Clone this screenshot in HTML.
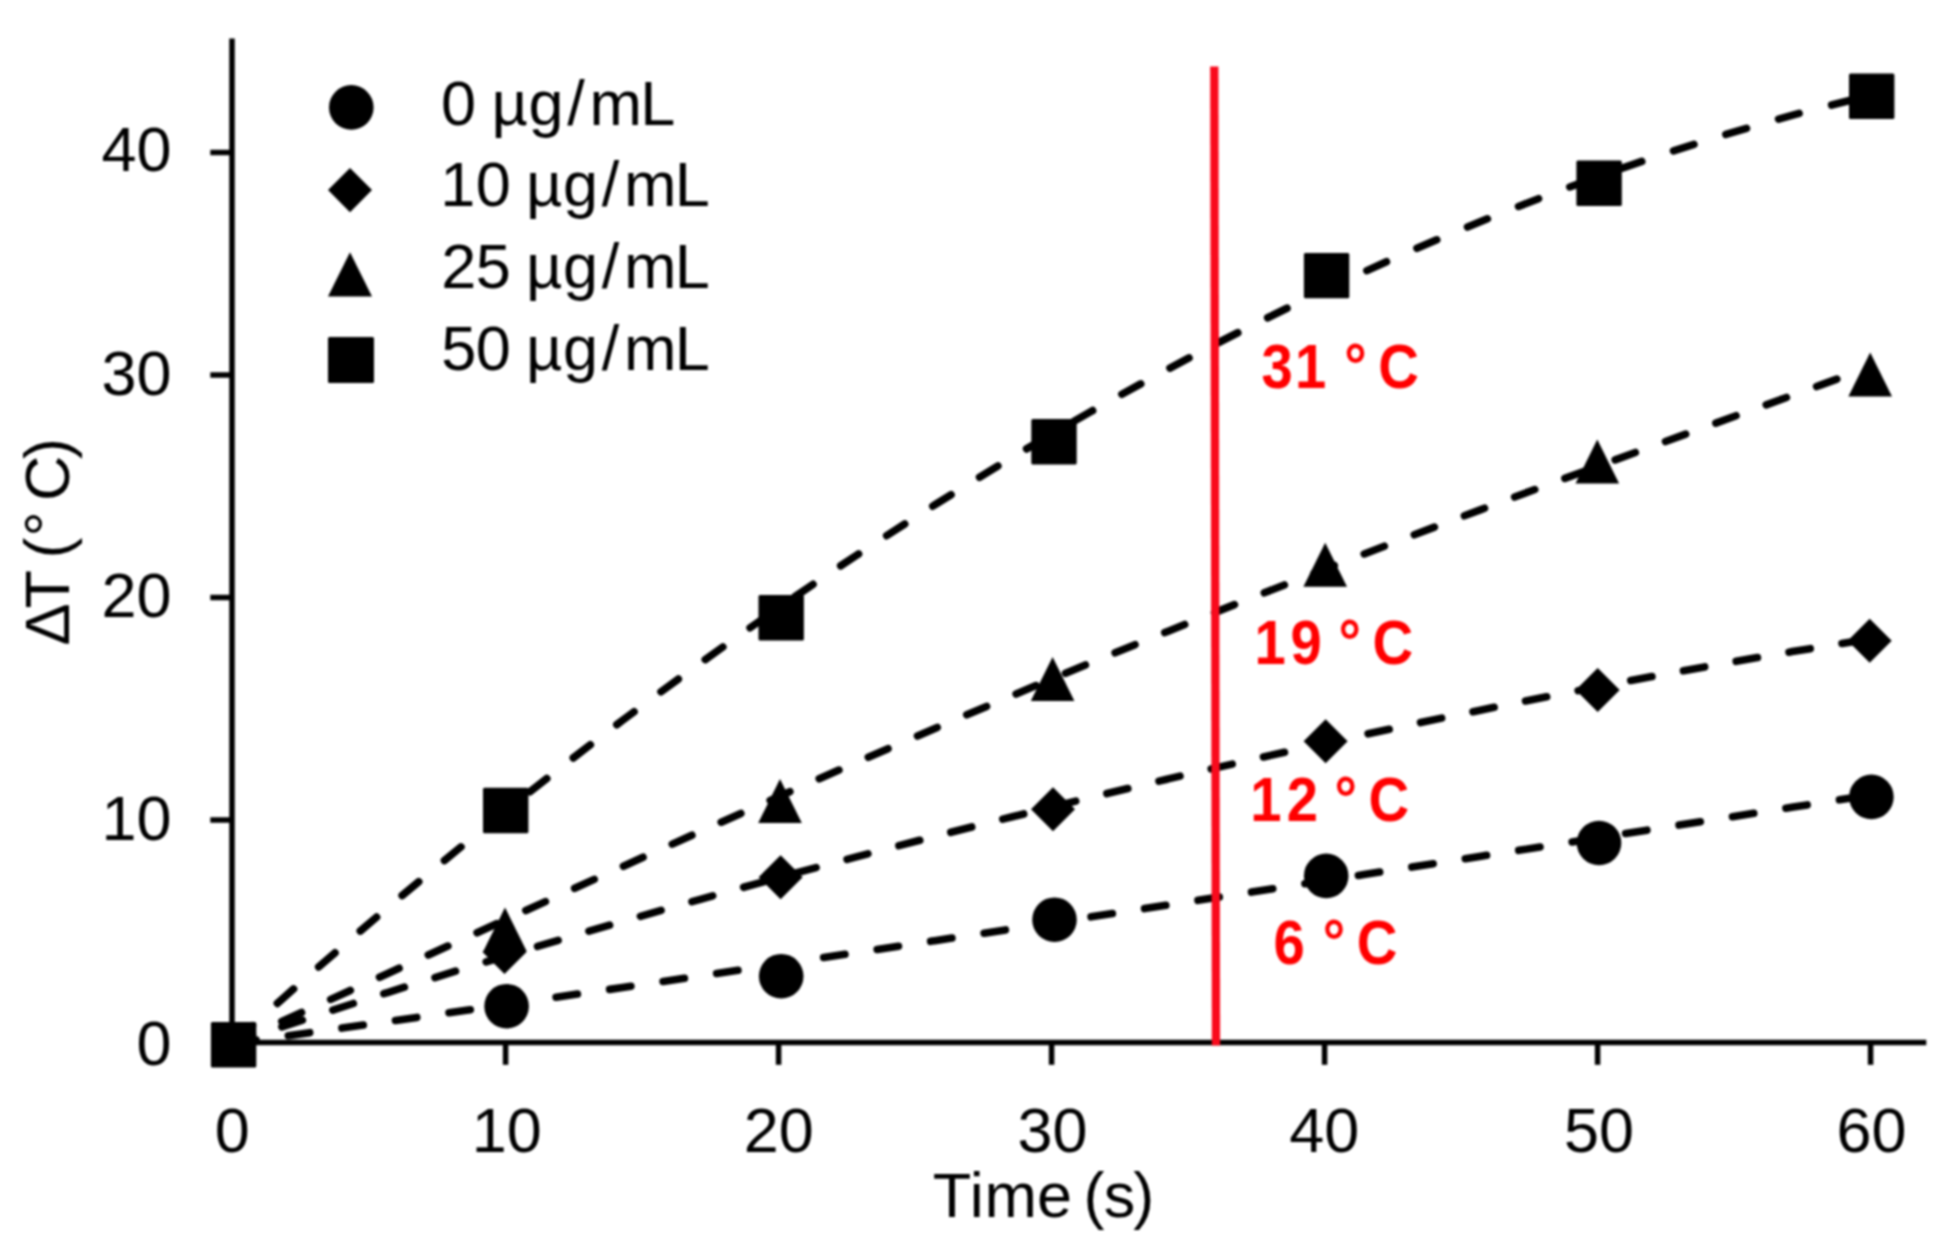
<!DOCTYPE html>
<html lang="en"><head><meta charset="utf-8"><title>Photothermal heating curves</title>
<style>html,body{margin:0;padding:0;background:#fff;overflow:hidden}svg{display:block;filter:blur(0.9px)}text{font-family:"Liberation Sans",sans-serif;fill:#000}.r text{fill:#ff0000;font-weight:bold}.ln{fill:none;stroke:#000;stroke-width:7.6;stroke-linecap:round}</style></head><body>
<svg width="1949" height="1248" viewBox="0 0 1949 1248">
<rect width="1949" height="1248" fill="#fff"/>
<g class="ln">
<path d="M232.3 1043.5 C245.3 1041.7 284.3 1036.2 310.3 1032.6 C336.4 1028.9 362.4 1025.2 388.4 1021.5 C414.4 1017.8 440.4 1014.0 466.4 1010.3 C492.4 1006.5 518.5 1002.7 544.5 998.9 C570.5 995.1 596.5 991.3 622.5 987.5 C648.5 983.6 674.5 979.8 700.6 975.9 C726.6 972.0 752.6 968.2 778.6 964.3 C804.6 960.4 830.6 956.5 856.6 952.5 C882.7 948.6 908.7 944.7 934.7 940.7 C960.7 936.8 986.7 932.8 1012.7 928.8 C1038.7 924.8 1064.8 920.9 1090.8 916.9 C1116.8 912.9 1142.8 908.9 1168.8 904.8 C1194.8 900.8 1220.8 896.8 1246.9 892.8 C1272.9 888.7 1298.9 884.7 1324.9 880.6 C1350.9 876.6 1376.9 872.5 1402.9 868.5 C1429.0 864.4 1455.0 860.3 1481.0 856.2 C1507.0 852.2 1533.0 848.1 1559.0 844.0 C1585.0 839.9 1611.1 835.8 1637.1 831.7 C1663.1 827.6 1689.1 823.5 1715.1 819.4 C1741.1 815.3 1767.1 811.2 1793.2 807.1 C1819.2 803.0 1858.2 796.8 1871.2 794.8" stroke-dasharray="21.5 32.6" stroke-dashoffset="51.6"/>
<path d="M232.3 1043.5 C245.3 1039.2 284.3 1026.0 310.3 1017.5 C336.3 1008.9 362.3 1000.6 388.3 992.3 C414.3 984.0 440.3 975.9 466.3 967.9 C492.3 960.0 518.3 952.1 544.3 944.4 C570.3 936.6 596.3 929.0 622.3 921.5 C648.3 914.0 674.3 906.6 700.3 899.3 C726.3 892.0 752.3 884.9 778.3 877.8 C804.3 870.7 830.3 863.7 856.3 856.9 C882.3 850.0 908.3 843.2 934.3 836.5 C960.3 829.8 986.3 823.3 1012.3 816.8 C1038.3 810.3 1064.2 803.9 1090.2 797.6 C1116.2 791.3 1142.2 785.1 1168.2 778.9 C1194.2 772.8 1220.2 766.8 1246.2 760.9 C1272.2 755.0 1298.2 749.1 1324.2 743.4 C1350.2 737.7 1376.2 732.0 1402.2 726.5 C1428.2 720.9 1454.2 715.5 1480.2 710.2 C1506.2 704.8 1532.2 699.6 1558.2 694.5 C1584.2 689.4 1610.2 684.4 1636.2 679.5 C1662.2 674.6 1688.2 669.8 1714.2 665.2 C1740.2 660.6 1766.2 656.0 1792.2 651.6 C1818.2 647.3 1857.2 641.0 1870.2 638.9" stroke-dasharray="21.5 32.1" stroke-dashoffset="1.3"/>
<path d="M232.3 1043.6 C245.3 1037.7 284.3 1020.3 310.3 1008.6 C336.3 996.8 362.3 985.0 388.3 973.2 C414.3 961.4 440.3 949.5 466.3 937.7 C492.3 925.8 518.3 913.9 544.3 902.1 C570.3 890.3 596.3 878.4 622.3 866.7 C648.3 854.9 674.3 843.2 700.3 831.5 C726.3 819.9 752.3 808.3 778.3 796.8 C804.3 785.2 830.3 773.8 856.3 762.5 C882.3 751.1 908.3 739.9 934.3 728.7 C960.3 717.6 986.3 706.5 1012.3 695.6 C1038.3 684.6 1064.2 673.8 1090.2 663.0 C1116.2 652.3 1142.2 641.7 1168.2 631.2 C1194.2 620.7 1220.2 610.3 1246.2 600.0 C1272.2 589.7 1298.2 579.5 1324.2 569.4 C1350.2 559.3 1376.2 549.3 1402.2 539.4 C1428.2 529.4 1454.2 519.6 1480.2 509.9 C1506.2 500.1 1532.2 490.5 1558.2 480.9 C1584.2 471.2 1610.2 461.7 1636.2 452.2 C1662.2 442.7 1688.2 433.2 1714.2 423.7 C1740.2 414.3 1766.2 404.8 1792.2 395.4 C1818.2 385.9 1857.2 371.7 1870.2 367.0" stroke-dasharray="21.5 32.1" stroke-dashoffset="52.9"/>
<path d="M232.3 1043.6 C245.3 1032.0 284.3 996.9 310.4 974.2 C336.4 951.4 362.4 929.1 388.4 907.1 C414.5 885.1 440.5 863.6 466.5 842.4 C492.5 821.3 518.5 800.5 544.6 780.2 C570.6 759.8 596.6 739.9 622.6 720.3 C648.7 700.8 674.7 681.6 700.7 662.9 C726.7 644.1 752.7 625.8 778.8 607.8 C804.8 589.8 830.8 572.3 856.8 555.1 C882.9 538.0 908.9 521.2 934.9 504.8 C960.9 488.5 986.9 472.5 1013.0 457.0 C1039.0 441.4 1065.0 426.3 1091.0 411.5 C1117.1 396.8 1143.1 382.5 1169.1 368.5 C1195.1 354.6 1221.1 341.1 1247.2 328.0 C1273.2 314.9 1299.2 302.2 1325.2 289.9 C1351.3 277.6 1377.3 265.8 1403.3 254.3 C1429.3 242.9 1455.3 231.9 1481.4 221.3 C1507.4 210.7 1533.4 200.5 1559.4 190.8 C1585.5 181.1 1611.5 171.8 1637.5 162.9 C1663.5 154.0 1689.5 145.6 1715.6 137.6 C1741.6 129.6 1767.6 122.0 1793.6 114.9 C1819.7 107.8 1858.7 98.3 1871.7 95.0" stroke-dasharray="21.5 33.4" stroke-dashoffset="49.3"/>
</g>
<g stroke="#000" stroke-width="5.5" fill="none" stroke-linecap="butt">
<path d="M232 38.5V1045.2"/>
<path d="M229.3 1042.5H1926.3"/>
<path d="M210.3 820.0H232"/>
<path d="M210.3 597.5H232"/>
<path d="M210.3 375.0H232"/>
<path d="M210.3 152.5H232"/>
<path d="M505.6 1042.5V1064.8"/>
<path d="M778.6 1042.5V1064.8"/>
<path d="M1051.6 1042.5V1064.8"/>
<path d="M1324.6 1042.5V1064.8"/>
<path d="M1597.6 1042.5V1064.8"/>
<path d="M1870.6 1042.5V1064.8"/>
</g>
<path d="M1214.3 66.5L1216 1045.5" stroke="#f90a1c" stroke-width="8.3" fill="none"/>
<g fill="#000">
<rect x="210.9" y="1022.1" width="45.4" height="45.4" rx="1.5"/>
<rect x="483.0" y="787.8" width="45.4" height="45.4" rx="1.5"/>
<rect x="758.5" y="595.0" width="45.4" height="45.4" rx="1.5"/>
<rect x="1031.3" y="419.1" width="45.4" height="45.4" rx="1.5"/>
<rect x="1303.9" y="252.9" width="45.4" height="45.4" rx="1.5"/>
<rect x="1576.4" y="160.6" width="45.4" height="45.4" rx="1.5"/>
<rect x="1849.0" y="73.5" width="45.4" height="45.4" rx="1.5"/>
<path d="M505.0 907.4L526.8 951.4H483.2Z"/>
<path d="M780.0 779.0L801.8 823.0H758.2Z"/>
<path d="M1052.6 657.0L1074.4 701.0H1030.8Z"/>
<path d="M1325.2 542.7L1347.0 586.7H1303.4Z"/>
<path d="M1597.3 439.5L1619.1 483.5H1575.5Z"/>
<path d="M1870.2 352.5L1892.0 396.5H1848.4Z"/>
<path d="M504.5 930.0L526.5 952.0L504.5 974.0L482.5 952.0Z"/>
<path d="M780.6 855.2L802.6 877.2L780.6 899.2L758.6 877.2Z"/>
<path d="M1053.0 787.3L1075.0 809.3L1053.0 831.3L1031.0 809.3Z"/>
<path d="M1325.6 719.3L1347.6 741.3L1325.6 763.3L1303.6 741.3Z"/>
<path d="M1597.7 668.0L1619.7 690.0L1597.7 712.0L1575.7 690.0Z"/>
<path d="M1869.7 618.7L1891.7 640.7L1869.7 662.7L1847.7 640.7Z"/>
<circle cx="506.6" cy="1006.2" r="22.3"/>
<circle cx="781.2" cy="976.2" r="22.3"/>
<circle cx="1054.5" cy="919.7" r="22.3"/>
<circle cx="1326.2" cy="875.9" r="22.3"/>
<circle cx="1599.0" cy="843.0" r="22.3"/>
<circle cx="1871.4" cy="796.9" r="22.3"/>
<circle cx="351.3" cy="107.4" r="22.3"/>
<path d="M350 167.9L372 190L350 212.2L328 190Z"/>
<path d="M350 252.2L372 296.4H328Z"/>
<rect x="328" y="337" width="46" height="46" rx="1.5"/>
</g>
<g font-size="63" text-anchor="end">
<text x="171.6" y="171.3" textLength="70.0" lengthAdjust="spacingAndGlyphs">40</text>
<text x="171.6" y="394.5" textLength="70.0" lengthAdjust="spacingAndGlyphs">30</text>
<text x="171.6" y="617.3" textLength="70.0" lengthAdjust="spacingAndGlyphs">20</text>
<text x="171.6" y="840.2" textLength="70.0" lengthAdjust="spacingAndGlyphs">10</text>
<text x="171.6" y="1064.6" textLength="35.0" lengthAdjust="spacingAndGlyphs">0</text>
</g>
<g font-size="63" text-anchor="middle">
<text x="232.3" y="1151.6" textLength="35.0" lengthAdjust="spacingAndGlyphs">0</text>
<text x="506.7" y="1151.6" textLength="70.0" lengthAdjust="spacingAndGlyphs">10</text>
<text x="778.7" y="1151.6" textLength="70.0" lengthAdjust="spacingAndGlyphs">20</text>
<text x="1052.5" y="1151.6" textLength="70.0" lengthAdjust="spacingAndGlyphs">30</text>
<text x="1324.2" y="1151.6" textLength="70.0" lengthAdjust="spacingAndGlyphs">40</text>
<text x="1599.0" y="1151.6" textLength="70.0" lengthAdjust="spacingAndGlyphs">50</text>
<text x="1871.5" y="1151.6" textLength="70.0" lengthAdjust="spacingAndGlyphs">60</text>
</g>
<text x="932.8 969.8 984.5 1036.9 1071.9 1083.4 1103.7 1133.2" y="1216.8" font-size="63">Time (s)</text>
<text transform="translate(68.6 641) rotate(-90)" x="-4.4 32.6 71.1 82.4 104.6 129.8 140.1 182.0" y="0" font-size="63">ΔT (° C)</text>
<g font-size="63">
<text x="441.0 476.0 491.4 528.6 567.2 589.5 640.2" y="124.6">0 µg/mL</text>
<text x="440.3 475.8 510.8 525.9 563.1 601.7 624.0 674.7" y="206.4">10 µg/mL</text>
<text x="441.2 475.8 510.9 525.9 563.1 601.7 624.0 674.7" y="288.2">25 µg/mL</text>
<text x="441.2 475.8 510.8 525.9 563.1 601.7 624.0 674.7" y="369.8">50 µg/mL</text>
</g>
<g class="r" font-size="62.5">
<text transform="scale(0.9 1)" x="1401.6 1439.0 1473.8 1493.6 1518.6 1531.3" y="387.7">31 ° C</text>
<text transform="scale(0.9 1)" x="1393.8 1434.0 1468.8 1487.3 1512.3 1525.1" y="663.6">19 ° C</text>
<text transform="scale(0.9 1)" x="1389.3 1429.7 1464.3 1482.9 1507.9 1520.7" y="821.0">12 ° C</text>
<text transform="scale(0.9 1)" x="1415.1 1449.9 1469.7 1494.7 1507.6" y="964.2">6 ° C</text>
</g>
</svg></body></html>
